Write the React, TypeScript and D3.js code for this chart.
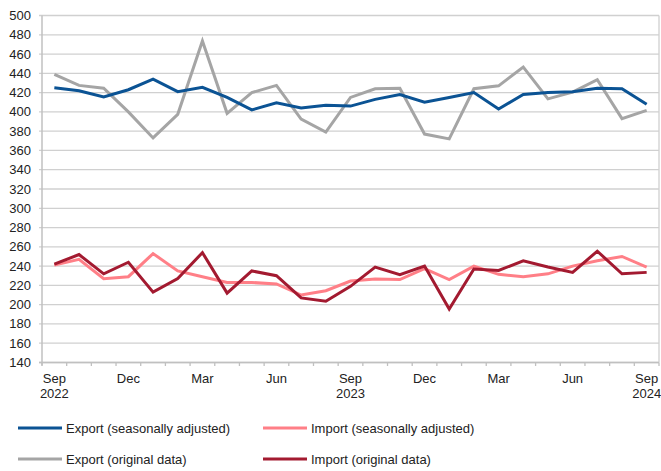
import React, { useRef, useEffect } from 'react';
import * as d3 from 'd3';

const months: string[] = [
    'Sep 2022', 'Oct 2022', 'Nov 2022', 'Dec 2022', 'Jan 2023', 'Feb 2023', 'Mar 2023', 'Apr 2023', 'May 2023',
    'Jun 2023', 'Jul 2023', 'Aug 2023', 'Sep 2023', 'Oct 2023', 'Nov 2023', 'Dec 2023', 'Jan 2024', 'Feb 2024',
    'Mar 2024', 'Apr 2024', 'May 2024', 'Jun 2024', 'Jul 2024', 'Aug 2024', 'Sep 2024',
];

const exportSA: number[] = [
    425, 422, 415.5, 423, 434, 421, 425.5, 415, 402, 409.5, 404, 407, 406,
    413, 418, 410, 415, 420, 403, 418, 420, 421, 424.5, 424, 408,
];
const exportOrig: number[] = [
    439, 427.5, 424.5, 400, 373, 397.5, 473.5, 398.5, 420, 427.5, 392.5, 379, 415,
    424, 424.5, 377, 372, 424, 427, 446.5, 413.5, 420.5, 433.5, 393, 401.5,
];
const importSA: number[] = [
    241, 247, 227, 229, 253, 235, 229, 223, 223, 221.5, 210, 214.5, 224.5,
    226.5, 226, 237.5, 226, 240, 231.5, 229, 232, 240, 245.5, 250, 239,
];
const importOrig: number[] = [
    242, 252, 232, 244, 213, 227, 254, 212, 235, 230, 207, 203.5, 219,
    239, 231, 240, 195.5, 237, 235.5, 245.5, 239, 233.5, 255.5, 232, 233.5,
];

const tickLabels: string[] = ['Sep', 'Dec', 'Mar', 'Jun', 'Sep', 'Dec', 'Mar', 'Jun', 'Sep'];
const yearLabels: string[] = ['2022', '', '', '', '2023', '', '', '', '2024'];

const series = [
    { name: 'Export (seasonally adjusted)', values: exportSA, color: '#0b5394' },
    { name: 'Import (seasonally adjusted)', values: importSA, color: '#ff7f87' },
    { name: 'Export (original data)', values: exportOrig, color: '#a5a5a5' },
    { name: 'Import (original data)', values: importOrig, color: '#a31a30' },
];
// grey behind blue, dark red over pink
const drawOrder = [2, 0, 1, 3];

const FONT = 'Arial, "Liberation Sans", sans-serif';
const FS = '13px';

const App: React.FC = () => {
    const svgRef = useRef<SVGSVGElement | null>(null);

    useEffect(() => {
        document.body.style.margin = '0';
        const svg = d3.select(svgRef.current);
        svg.selectAll('*').remove();

        const left = 42, right = 659, top = 15.5, bottom = 362.5;

        const x = d3.scaleBand<number>()
            .domain(d3.range(months.length))
            .range([left, right]);
        const y = d3.scaleLinear().domain([140, 500]).range([bottom, top]);
        const cx = (i: number) => (x(i) as number) + x.bandwidth() / 2;

        // grid
        const yTicks = d3.range(140, 501, 20);
        svg.append('g').selectAll('line')
            .data(yTicks)
            .enter().append('line')
            .attr('x1', left - 3).attr('x2', right)
            .attr('y1', d => y(d)).attr('y2', d => y(d))
            .attr('stroke', '#d0d0d0').attr('stroke-width', 1.3);

        svg.append('line')
            .attr('x1', right).attr('x2', right).attr('y1', top).attr('y2', bottom)
            .attr('stroke', '#d0d0d0').attr('stroke-width', 1.3);

        // axes
        svg.append('line')
            .attr('x1', left).attr('x2', left).attr('y1', top).attr('y2', bottom + 3)
            .attr('stroke', '#c0c0c0').attr('stroke-width', 1.5);
        svg.append('line')
            .attr('x1', left - 3).attr('x2', right).attr('y1', bottom).attr('y2', bottom)
            .attr('stroke', '#c0c0c0').attr('stroke-width', 1.5);

        svg.append('g').selectAll('line')
            .data(d3.range(months.length + 1))
            .enter().append('line')
            .attr('x1', d => left + d * x.step()).attr('x2', d => left + d * x.step())
            .attr('y1', bottom).attr('y2', bottom + 3.5)
            .attr('stroke', '#c0c0c0').attr('stroke-width', 1.3);

        // y labels
        svg.append('g').selectAll('text')
            .data(yTicks)
            .enter().append('text')
            .attr('x', 31).attr('y', d => y(d) + 4.5)
            .attr('text-anchor', 'end')
            .style('font-family', FONT).style('font-size', FS).attr('fill', '#222')
            .text(d => d);

        // x labels
        const xl = svg.append('g');
        tickLabels.forEach((t, k) => {
            const i = k * 3;
            xl.append('text')
                .attr('x', cx(i)).attr('y', 383)
                .attr('text-anchor', 'middle')
                .style('font-family', FONT).style('font-size', FS).attr('fill', '#222')
                .text(t);
            if (yearLabels[k]) {
                xl.append('text')
                    .attr('x', cx(i)).attr('y', 398)
                    .attr('text-anchor', 'middle')
                    .style('font-family', FONT).style('font-size', FS).attr('fill', '#222')
                    .text(yearLabels[k]);
            }
        });

        // lines
        const line = d3.line<number>()
            .x((_, i) => cx(i))
            .y(d => y(d));

        drawOrder.forEach(si => {
            const s = series[si];
            svg.append('path')
                .datum(s.values)
                .attr('d', line)
                .attr('fill', 'none')
                .attr('stroke', s.color)
                .attr('stroke-width', 3)
                .attr('stroke-linejoin', 'miter');
        });

        // legend
        const legendPos = [[18, 428], [263, 428], [18, 459], [263, 459]];
        series.forEach((s, i) => {
            const [lx, ly] = legendPos[i];
            const g = svg.append('g').attr('transform', `translate(${lx},${ly})`);
            g.append('line')
                .attr('x1', 0).attr('x2', 44).attr('y1', 0).attr('y2', 0)
                .attr('stroke', s.color).attr('stroke-width', 3);
            g.append('text')
                .attr('x', 48).attr('y', 4.5)
                .style('font-family', FONT).style('font-size', FS).attr('fill', '#222')
                .text(s.name);
        });
    }, []);

    return <svg ref={svgRef} width={661} height={471} style={{ display: 'block', background: '#fff' }} />;
};

export default App;
